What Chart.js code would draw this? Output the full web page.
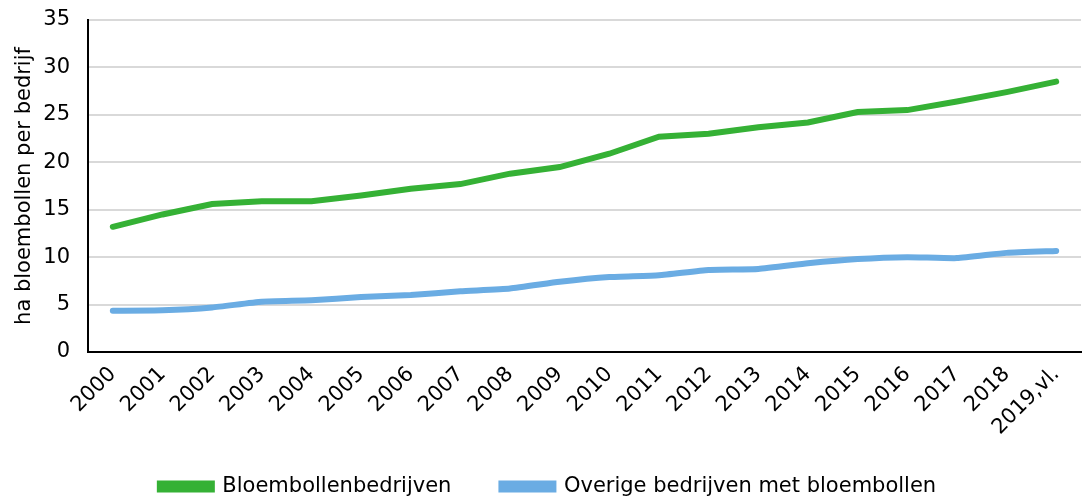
<!DOCTYPE html>
<html>
<head>
<meta charset="utf-8">
<script src="https://cdn.jsdelivr.net/npm/chart.js@4"></script>
<style>
    html, body { margin: 0; padding: 0; background: #fff; }
    #wrap { width: 1084px; height: 499px; }
</style>
</head>
<body>
<div id="wrap"><canvas id="bulbChart"></canvas></div>
<script>
const years = ["2000", "2001", "2002", "2003", "2004", "2005", "2006", "2007", "2008", "2009",
    "2010", "2011", "2012", "2013", "2014", "2015", "2016", "2017", "2018", "2019,vl."];
const bulbFarms = [13.2, 14.5, 15.6, 15.9, 15.9, 16.5, 17.2, 17.7, 18.8, 19.5,
    20.9, 22.7, 23.0, 23.7, 24.2, 25.3, 25.5, 26.4, 27.4, 28.5];
const otherFarms = [4.35, 4.4, 4.7, 5.3, 5.45, 5.8, 6.0, 6.4, 6.7, 7.4,
    7.9, 8.1, 8.65, 8.75, 9.35, 9.8, 10.0, 9.9, 10.45, 10.65];
const yTicks = [0, 5, 10, 15, 20, 25, 30, 35];

const fontFamily = "'DejaVu Sans', Verdana, sans-serif";
const green = "#35b135";
const blue = "#6aace3";

Chart.defaults.font.family = fontFamily;
Chart.defaults.color = "#000";

new Chart(document.getElementById("bulbChart").getContext("2d"), {
    type: "line",
    data: {
        labels: years,
        datasets: [
            {
                label: "Bloembollenbedrijven",
                data: bulbFarms,
                borderColor: green,
                backgroundColor: green,
                borderWidth: 6,
                pointRadius: 0,
                borderCapStyle: "round",
                tension: 0
            },
            {
                label: "Overige bedrijven met bloembollen",
                data: otherFarms,
                borderColor: blue,
                backgroundColor: blue,
                borderWidth: 6,
                pointRadius: 0,
                borderCapStyle: "round",
                tension: 0.15
            }
        ]
    },
    options: {
        responsive: true,
        maintainAspectRatio: false,
        animation: false,
        layout: { padding: { top: 0, right: 0, left: 12, bottom: 0 } },
        plugins: {
            tooltip: { enabled: false },
            legend: {
                position: "bottom",
                labels: {
                    font: { size: 21 },
                    boxWidth: 52,
                    boxHeight: 6,
                    padding: 50
                }
            }
        },
        scales: {
            x: {
                offset: true,
                grid: { display: false, drawTicks: false },
                border: { color: "#000", width: 2 },
                ticks: {
                    font: { size: 21 },
                    minRotation: 45,
                    maxRotation: 45,
                    padding: 10
                },
                afterFit: (scale) => {
                    scale.height = 74;
                    // let the long last label run past the axis box
                    scale._computeLabelArea = () => undefined;
                }
            },
            y: {
                min: 0,
                max: 35,
                afterBuildTicks: (scale) => {
                    scale.ticks = yTicks.map((v) => ({ value: v }));
                },
                grid: { color: "#d9d9d9", lineWidth: 2, drawTicks: false },
                border: { color: "#000", width: 2 },
                ticks: { font: { size: 21 }, padding: 18 },
                title: {
                    display: true,
                    text: "ha bloembollen per bedrijf",
                    font: { size: 21 },
                    padding: { top: 0, bottom: 0 }
                },
                afterFit: (scale) => {
                    scale.width = 76;
                    scale.paddingTop = 20;
                }
            }
        }
    },
    plugins: [{
        id: "legendHeight",
        afterInit(chart) {
            // wide gap between legend items, but keep the legend box short
            const legend = chart.legend;
            const fit = legend.fit.bind(legend);
            legend.fit = function () {
                fit();
                this.height = 73;
            };
        }
    }]
});
</script>
</body>
</html>
